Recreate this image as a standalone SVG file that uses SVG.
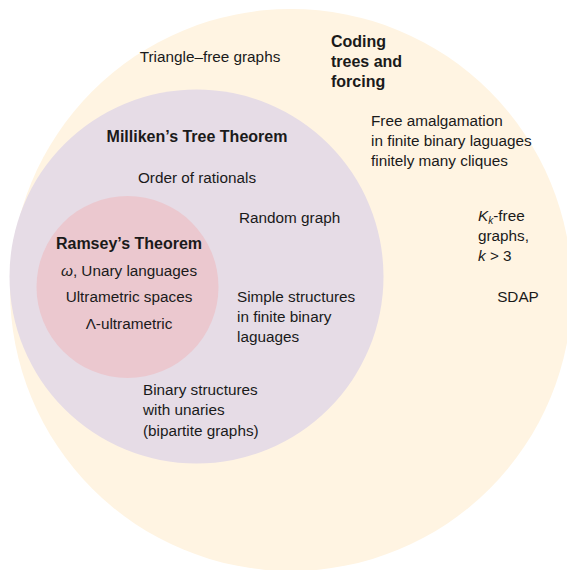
<svg xmlns="http://www.w3.org/2000/svg" width="567" height="570" viewBox="0 0 567 570">
<style>
text{font-family:"Liberation Sans",Arial,sans-serif;font-size:15.3px;fill:#1a1a1a}
.b{font-weight:bold;font-size:16px}
.c{text-anchor:middle}
.m{font-style:italic}
</style>
<rect width="567" height="570" fill="#ffffff"/>
<g id="coding-trees">
<circle cx="291" cy="290" r="281" fill="#fff4e2"/>
<text x="210" y="62" class="c">Triangle–free graphs</text>
<text x="331" y="47" class="b">Coding</text>
<text x="331" y="67" class="b">trees and</text>
<text x="331" y="87" class="b">forcing</text>
<text x="371" y="126">Free amalgamation</text>
<text x="371" y="146">in finite binary laguages</text>
<text x="371" y="166">finitely many cliques</text>
<text x="478" y="221"><tspan class="m">K</tspan><tspan class="m" font-size="10" dy="3">k</tspan><tspan dy="-3">-free</tspan></text>
<text x="478" y="241">graphs,</text>
<text x="478" y="261"><tspan class="m">k</tspan> &gt; 3</text>
<text x="518" y="302" class="c">SDAP</text>
</g>
<g id="milliken">
<circle cx="196.5" cy="276.5" r="187" fill="#e6dce6"/>
<text x="197" y="142" class="b c">Milliken’s Tree Theorem</text>
<text x="197" y="183" class="c">Order of rationals</text>
<text x="239" y="223">Random graph</text>
<text x="237" y="302">Simple structures</text>
<text x="237" y="322">in finite binary</text>
<text x="237" y="342">laguages</text>
<text x="143" y="395">Binary structures</text>
<text x="143" y="415">with unaries</text>
<text x="143" y="436">(bipartite graphs)</text>
</g>
<g id="ramsey">
<circle cx="127.5" cy="287" r="91" fill="#ebc8cf"/>
<text x="129" y="249" class="b c">Ramsey’s Theorem</text>
<text x="129" y="276" class="c"><tspan class="m">ω</tspan>, Unary languages</text>
<text x="129" y="302" class="c">Ultrametric spaces</text>
<text x="129" y="329" class="c">Λ-ultrametric</text>
</g>
<g id="connectors"/>
</svg>
